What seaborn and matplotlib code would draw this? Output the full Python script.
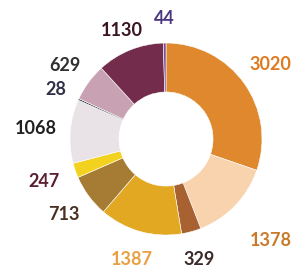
import matplotlib
matplotlib.use("Agg")
import matplotlib.pyplot as plt
import numpy as np
import seaborn as sns

values = [3020, 1378, 329, 1387, 713, 247, 1068, 28, 629, 1130, 44]
labels = [str(v) for v in values]
colors = ["#E0882E", "#F8D3AE", "#A86232", "#E2A822", "#A67C34", "#F2D21E",
          "#E9E2E6", "#3A3A4A", "#C8A2B2", "#742C4C", "#7B4E95"]
label_colors = ["#E07A20", "#C87A2A", "#3A2A2A", "#E8A040", "#4A3020", "#5A2030",
                "#202020", "#303048", "#303030", "#3A1420", "#4A3880"]
label_dist = [1.33, 1.52, 1.3, 1.3, 1.32, 1.34, 1.36, 1.26, 1.3, 1.22, 1.26]

sns.set_theme(style="white")
plt.rcParams["font.family"] = ["Lato", "DejaVu Sans"]

fig = plt.figure(figsize=(3.04, 2.67), dpi=100)
ax = fig.add_axes([0, 0, 1, 1])
palette = sns.color_palette(colors)
wedges, _ = ax.pie(values, colors=palette, startangle=90,
                   counterclock=False, radius=1.0,
                   wedgeprops=dict(width=0.51, edgecolor="white", linewidth=0.4))
for w, lab, c, d in zip(wedges, labels, label_colors, label_dist):
    ang = np.deg2rad((w.theta1 + w.theta2) / 2)
    ax.text(d * np.cos(ang), d * np.sin(ang), lab, color=c, ha="center",
            va="center", fontsize=13, fontweight="bold")
ax.set_aspect("auto")
ax.set_xlim(-1.729, 1.4375)
ax.set_ylim(-1.333, 1.448)
ax.axis("off")
fig.savefig("out.png", dpi=100)
